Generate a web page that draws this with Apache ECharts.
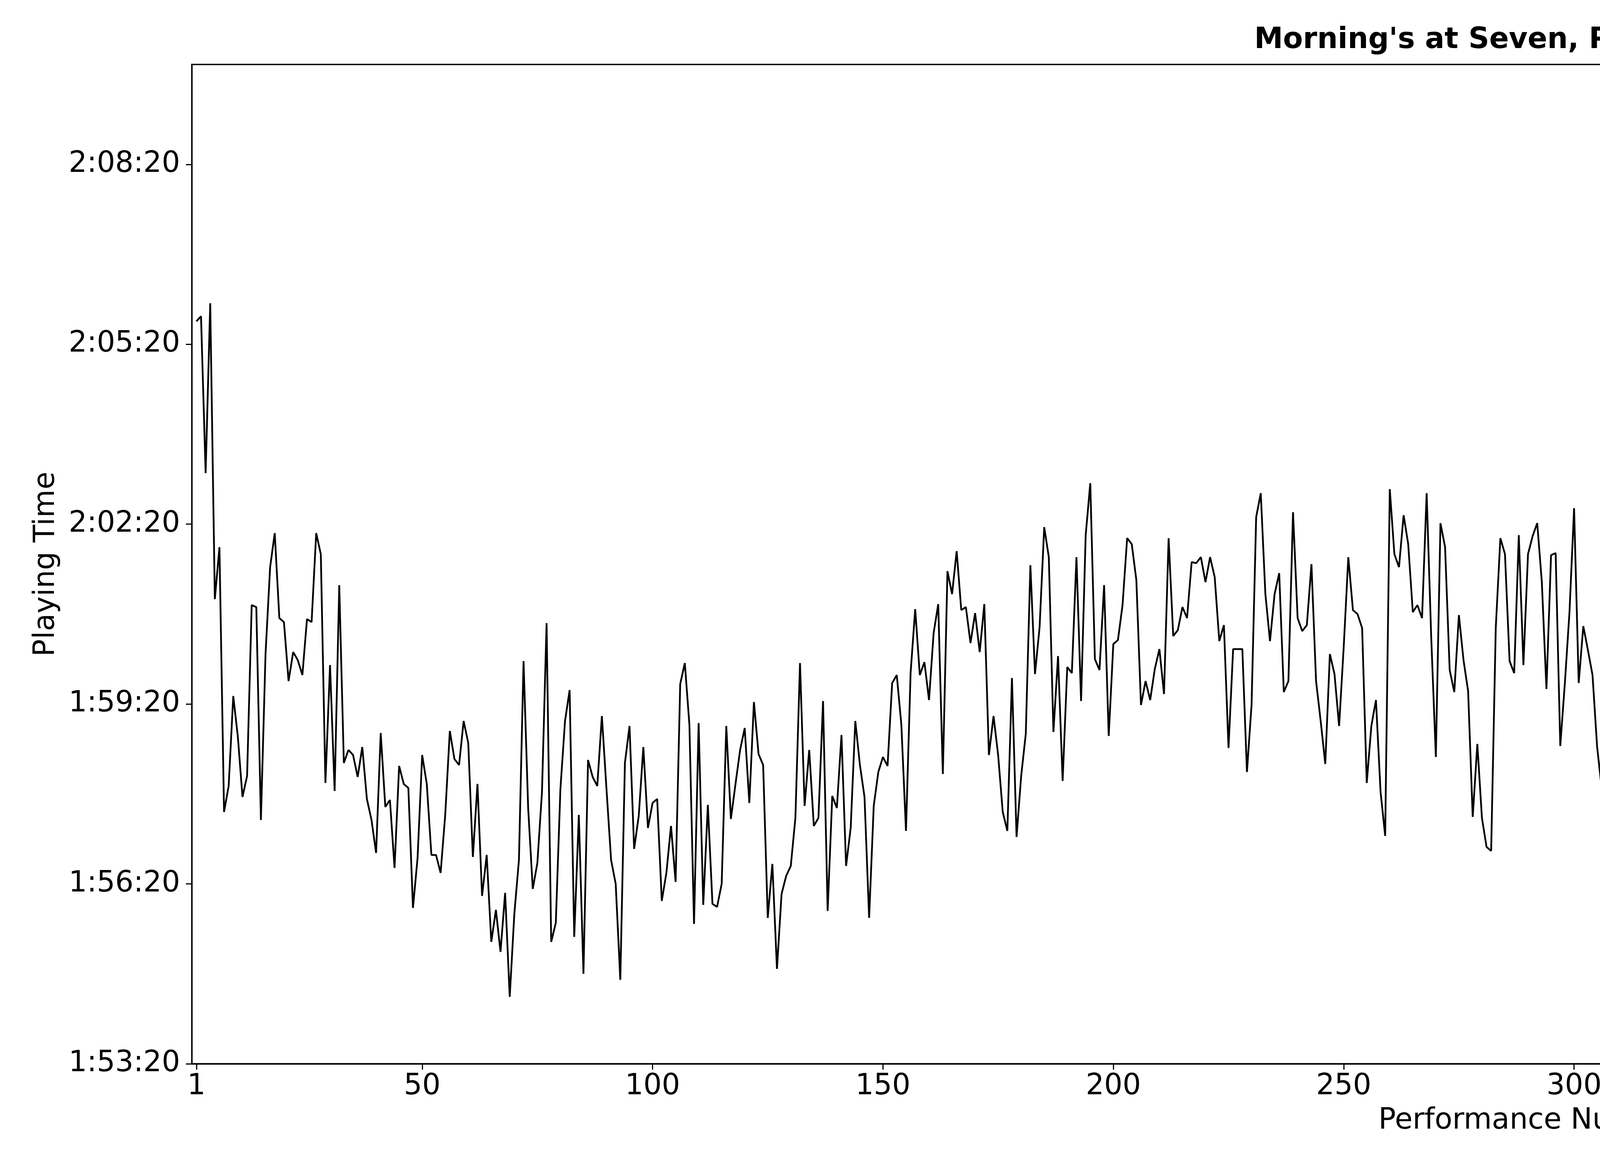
<!DOCTYPE html>
<html><head><meta charset="utf-8">
<script src="https://cdn.jsdelivr.net/npm/echarts@6/dist/echarts.min.js"></script>
<style>html,body{margin:0;padding:0;background:#fff}#c{width:7500px;height:3000px}</style>
</head><body><div id="c"></div>
<script>
const chartTitle = "Morning's at Seven, Playing Times";
const xAxisName = "Performance Number";
const yAxisName = "Playing Time";
const xTickValues = [1,50,100,150,200,250,300,350,400,450,500,550,581];
const yTickValues = [6800,6980,7160,7340,7520,7700];
// playing time in seconds for performances 1..581 (null = missing)
const playingSeconds = [
7543,7548,7391,7561,7265,7317,7052,7078,7168,7127,7067,7088,7259,7257,7044,7210,7297,7331,7246,7242,
7183,7212,7204,7189,7245,7242,7331,7310,7081,7199,7073,7279,7101,7114,7109,7087,7117,7065,7044,7011,
7131,7057,7064,6996,7098,7080,7076,6956,7006,7109,
7080,7009,7009,6991,7049,7133,7105,7099,7143,7121,7007,7080,6968,7009,6922,6954,6912,6971,6867,6950,
7004,7203,7056,6975,7001,7072,7241,6922,6941,7075,7143,7174,6927,7049,6890,7104,7087,7078,7148,7075,
7004,6980,6884,7101,7138,7015,7048,7117,7036,7061,
7065,6963,6991,7038,6982,7180,7201,7139,6940,7141,6959,7059,6960,6957,6980,7138,7045,7080,7114,7136,
7061,7162,7110,7099,6946,7000,6895,6970,6988,6998,7046,7201,7058,7114,7038,7046,7163,6953,7068,7056,
7129,6998,7036,7143,7099,7067,6946,7058,7092,7107,
7098,7181,7189,7139,7033,7191,7255,7189,7202,7164,7231,7260,7090,7293,7270,7313,7254,7257,7221,7251,
7212,7260,7109,7148,7109,7052,7033,7186,7027,7088,7130,7299,7190,7237,7337,7307,7132,7208,7083,7197,
7191,7307,7163,7329,7381,7205,7194,7279,7128,7220,
7224,7259,7326,7320,7284,7159,7183,7164,7195,7215,7170,7326,7228,7234,7257,7246,7302,7301,7307,7282,
7307,7287,7223,7239,7116,7215,7215,7215,7092,7159,7347,7371,7270,7223,7270,7291,7172,7183,7352,7246,
7233,7239,7300,7183,7143,7100,7210,7190,7138,7217,
7307,7254,7250,7236,7081,7138,7164,7072,7028,7375,7310,7297,7349,7320,7252,7259,7246,7371,7226,7107,
7341,7317,7194,7172,7249,7204,7173,7047,7120,7046,7017,7013,7236,7326,7310,7203,7191,7329,7199,7310,
7328,7341,7282,7175,7309,7311,7118,7181,7252,7356,
7181,7238,7214,7189,7117,7075,7242,7174,7168,7163,7304,7149,6937,7149,7210,7146,7188,7242,7252,7277,
7220,7183,7260,7185,7151,7203,7217,7344,7265,7109,7318,7249,7170,7168,7159,7199,7338,7305,7209,7252,
7080,7094,7299,7309,7277,7154,7265,7191,7134,7152,
7183,7112,7254,7278,7231,7231,7191,7073,7263,7027,7174,7136,7138,7162,7081,7041,6968,7007,7143,7284,
7324,7326,7326,7116,7277,7071,7154,7145,7152,7286,7277,7201,7208,7036,7092,7246,7241,7180,7218,null,
7172,6989,7078,7234,7123,7273,7125,7143,7257,7116,
7112,7254,7116,7212,7049,7114,7138,7086,7020,6974,7064,7072,7080,7139,7076,7312,7065,7239,7104,7000,
7119,6920,7141,6959,7014,7100,7100,7098,7051,7100,7201,7067,7080,7080,7139,6966,7139,7163,7168,7150,
7209,7117,7043,7022,6814,7168,7156,7151,7094,7061,
7253,7112,7236,7262,7334,7207,7161,7291,7219,7091,7167,7197,7273,7049,7191,7217,7230,7081,7143,7185,
7312,7088,7209,7145,7297,7122,7049,7165,7170,7094,7262,7206,7133,7135,7225,7191,7246,7204,7195,7204,
7167,7011,7226,7048,7297,7172,7178,7302,7118,6998,
7220,7188,7199,7094,7022,7067,7083,6881,6987,6972,7089,7002,7033,7157,7136,6940,7072,7178,7164,6974,
7179,7133,7030,6929,7094,7181,null,7110,6988,7045,6943,6998,7214,7713,7783,7687,7452,7476,7394,7408,
7440,7455,7595,7489,7489,7413,7352,7344,7284,7403,
7387,7387,7416,7513,7445,7362,7536,7510,7499,7574,7631,7611,7399,7429,7584,7458,7505,7434,7550,7546,
7279,7329,7433,7523,7500,7511,7579,7463,7284,7467,7371
];
const seriesData = playingSeconds.map((v, i) => [i + 1, v]);
function fmtTime(s){
  const h = Math.floor(s/3600), m = Math.floor((s%3600)/60), sec = Math.round(s%60);
  return h + ':' + String(m).padStart(2,'0') + ':' + String(sec).padStart(2,'0');
}
const FONT = 'DejaVu Sans';
const chart = echarts.init(document.getElementById('c'), null, {renderer:'canvas', width:7500, height:3000});
chart.setOption({
  animation:false,
  backgroundColor:'#fff',
  title:{text:chartTitle, left:3924, top:62, textAlign:'center',
    textStyle:{fontFamily:FONT, fontSize:74, fontWeight:'bold', color:'#000'}},
  grid:{left:491, right:144, top:165, bottom:277, show:true, borderColor:'#000', borderWidth:3.3, backgroundColor:'transparent'},
  xAxis:{type:'value', min:0, max:582, interval:50,
    name:xAxisName, nameLocation:'middle', nameGap:110,
    nameTextStyle:{fontFamily:FONT, fontSize:74, color:'#000'},
    axisLine:{show:true, onZero:false, lineStyle:{color:'#000', width:3.3}},
    axisTick:{show:true, length:15, inside:false, lineStyle:{color:'#000', width:3}, customValues:xTickValues},
    axisLabel:{fontFamily:FONT, fontSize:74, color:'#000', margin:22, customValues:xTickValues},
    splitLine:{show:false}},
  yAxis:{type:'value', min:6800, max:7800, interval:180,
    name:yAxisName, nameLocation:'middle', nameGap:335, nameRotate:90,
    nameTextStyle:{fontFamily:FONT, fontSize:74, color:'#000'},
    axisLine:{show:true, onZero:false, lineStyle:{color:'#000', width:3.3}},
    axisTick:{show:true, length:15, inside:false, lineStyle:{color:'#000', width:3}, customValues:yTickValues},
    axisLabel:{fontFamily:FONT, fontSize:74, color:'#000', margin:30, customValues:yTickValues, formatter:v=>fmtTime(v)},
    splitLine:{show:false}},
  series:[{type:'line', data:seriesData, showSymbol:false, connectNulls:false,
    lineStyle:{color:'#000', width:4.5}, itemStyle:{color:'#000'}, z:3}]
});
</script></body></html>
